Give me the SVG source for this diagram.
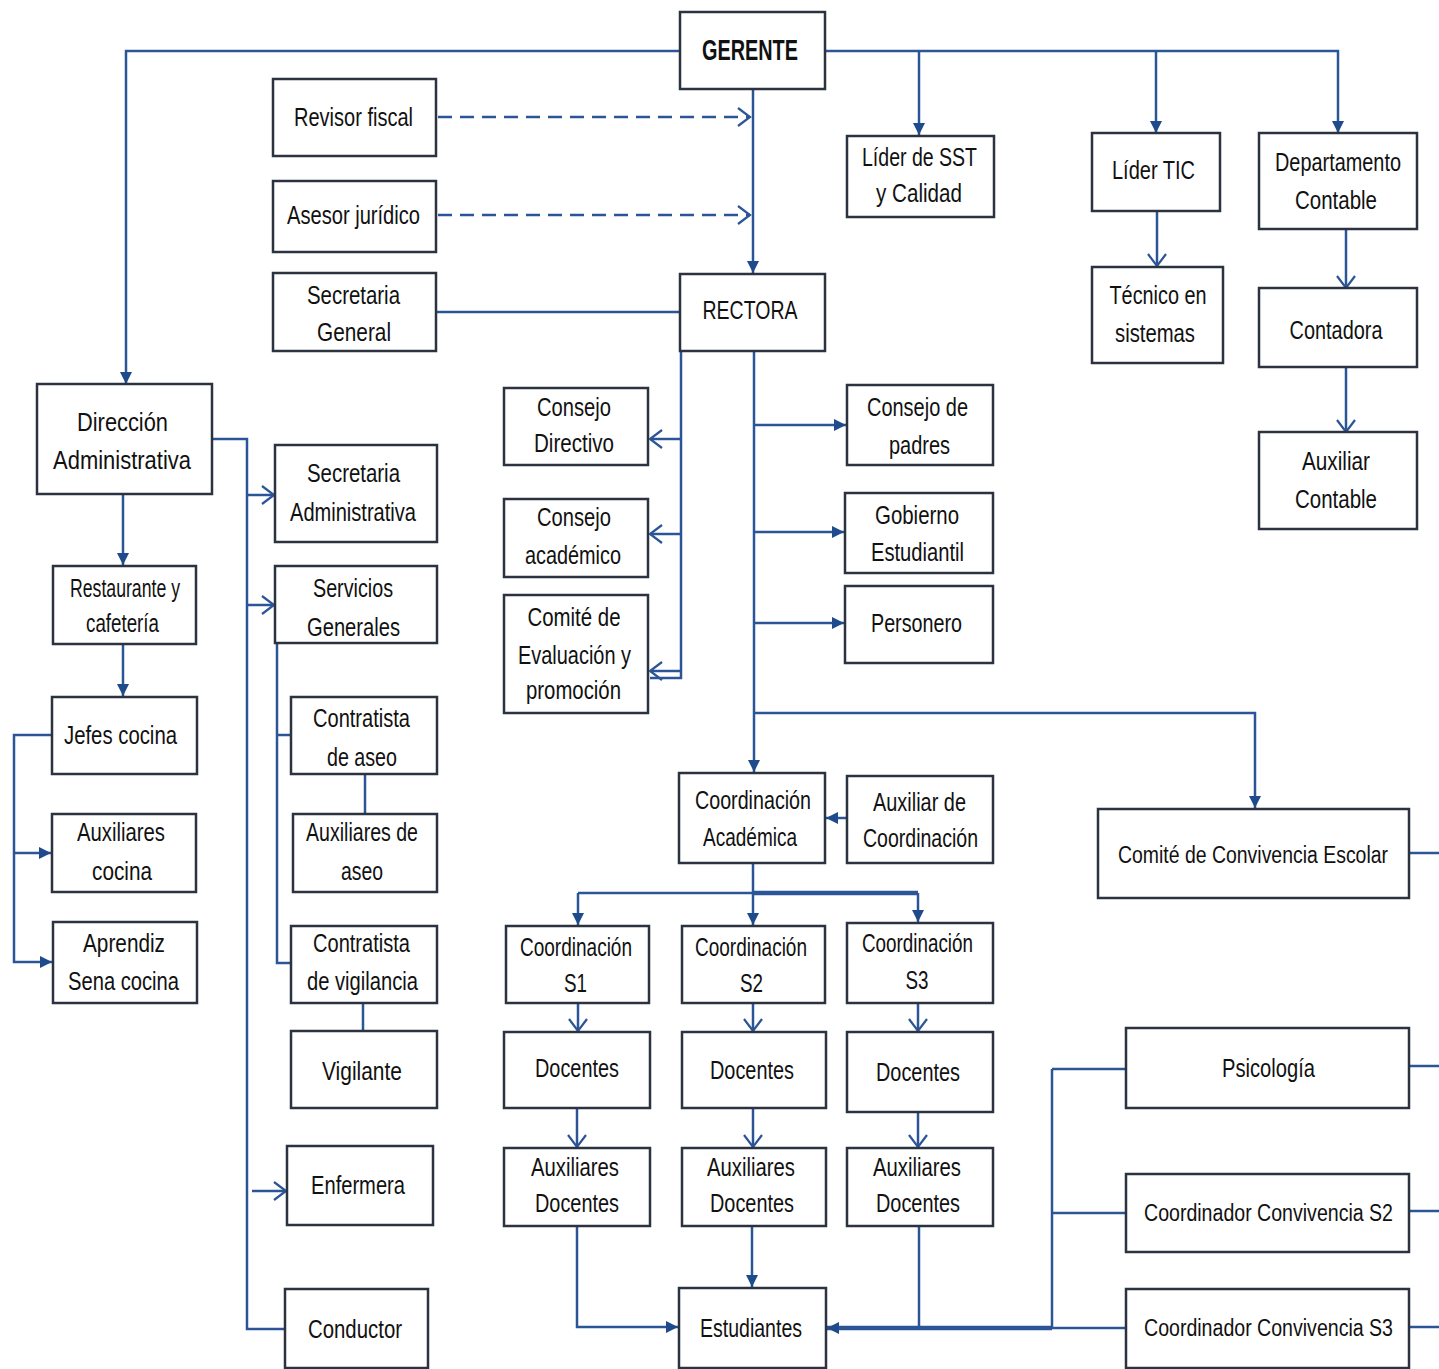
<svg xmlns="http://www.w3.org/2000/svg" width="1439" height="1369" viewBox="0 0 1439 1369">
<style>
.b{fill:#fff;stroke:#2c3340;stroke-width:2.5}
.t{font-family:"Liberation Sans",Arial,sans-serif;font-size:26px;fill:#111;text-anchor:middle}
.g{font-weight:bold;font-size:29px}
.w{font-size:23px}
.c{fill:none;stroke:#2b5596;stroke-width:2.5}
.d{stroke-dasharray:14 8}
.k{stroke-width:4.5}
.f{marker-end:url(#fa)}
.o{marker-end:url(#oa)}
</style>
<defs>
<marker id="fa" markerUnits="userSpaceOnUse" markerWidth="14" markerHeight="14" refX="12" refY="7" orient="auto">
<path d="M0,1 L12,7 L0,13 z" fill="#1f4a8c"/>
</marker>
<marker id="oa" markerUnits="userSpaceOnUse" markerWidth="16" markerHeight="20" refX="13" refY="10" orient="auto">
<path d="M1,1 L13,10 L1,19" fill="none" stroke="#2b5596" stroke-width="2.2"/>
</marker>
</defs>
<rect width="1439" height="1369" fill="#fff"/>
<g id="connectors">
<path class="c f" d="M680,51 H126 V384"/>
<path class="c f" d="M825,51 H1338 V133"/>
<path class="c f" d="M919,51 V135"/>
<path class="c f" d="M1156,51 V133"/>
<path class="c f" d="M753,89 V273"/>
<path class="c d o" d="M438,117 H750"/>
<path class="c d o" d="M438,215 H750"/>
<path class="c" d="M436,312 H680"/>
<path class="c o" d="M1157,211 V266"/>
<path class="c o" d="M1346,229 V288"/>
<path class="c o" d="M1346,367 V432"/>
<path class="c" d="M681,351 V678 H650"/>
<path class="c o" d="M681,439 H650"/>
<path class="c o" d="M681,534 H650"/>
<path class="c o" d="M681,671 H650"/>
<path class="c f" d="M754,351 V772"/>
<path class="c f" d="M754,425 H846"/>
<path class="c f" d="M754,532 H844"/>
<path class="c f" d="M754,623 H844"/>
<path class="c f" d="M754,713 H1255 V808"/>
<path class="c f" d="M847,818 H826"/>
<path class="c" d="M753,864 V893 M578,893 H918"/>
<path class="c k" d="M753,893 H918"/>
<path class="c f" d="M578,893 V925"/>
<path class="c f" d="M753,893 V925"/>
<path class="c f" d="M918,893 V922"/>
<path class="c o" d="M578,1003 V1031"/>
<path class="c o" d="M753,1003 V1031"/>
<path class="c o" d="M918,1003 V1031"/>
<path class="c o" d="M577,1108 V1147"/>
<path class="c o" d="M753,1108 V1147"/>
<path class="c o" d="M918,1112 V1147"/>
<path class="c f" d="M577,1226 V1327 H678"/>
<path class="c f" d="M752,1226 V1287"/>
<path class="c" d="M919,1226 V1327"/>
<path class="c k f" d="M1052,1328 H827"/>
<path class="c" d="M1052,1069 V1328 M1052,1069 H1126 M1052,1213 H1126 M1052,1328 H1126"/>
<path class="c" d="M1409,853 H1439 M1409,1066 H1439 M1409,1211 H1439 M1409,1327 H1439"/>
<path class="c" d="M212,439 H247 V1329 H285"/>
<path class="c o" d="M247,495 H274"/>
<path class="c o" d="M247,605 H274"/>
<path class="c o" d="M252,1191 H286"/>
<path class="c f" d="M123,494 V565"/>
<path class="c f" d="M123,644 V696"/>
<path class="c f" d="M52,735 H14 V962 H52"/>
<path class="c f" d="M14,853 H51"/>
<path class="c" d="M277,643 V963 H291 M277,735 H291"/>
<path class="c" d="M365,774 V814"/>
<path class="c" d="M363,1003 V1031"/>
</g>
<g id="gerente"><rect class="b" x="680" y="12" width="145" height="77"/><text class="t g" x="750" y="60" textLength="96" lengthAdjust="spacingAndGlyphs">GERENTE</text></g>
<g id="revisor"><rect class="b" x="273" y="79" width="163" height="77"/><text class="t" x="353.5" y="126" textLength="119" lengthAdjust="spacingAndGlyphs">Revisor fiscal</text></g>
<g id="asesor"><rect class="b" x="273" y="181" width="163" height="71"/><text class="t" x="353.5" y="224" textLength="133" lengthAdjust="spacingAndGlyphs">Asesor jurídico</text></g>
<g id="secgeneral"><rect class="b" x="273" y="273" width="163" height="78"/><text class="t" x="353.5" y="304" textLength="93" lengthAdjust="spacingAndGlyphs">Secretaria</text><text class="t" x="354" y="341" textLength="74" lengthAdjust="spacingAndGlyphs">General</text></g>
<g id="rectora"><rect class="b" x="680" y="274" width="145" height="77"/><text class="t" x="750" y="319" textLength="95" lengthAdjust="spacingAndGlyphs">RECTORA</text></g>
<g id="sst"><rect class="b" x="847" y="136" width="147" height="81"/><text class="t" x="919.5" y="166" textLength="115" lengthAdjust="spacingAndGlyphs">Líder de SST</text><text class="t" x="919" y="202" textLength="86" lengthAdjust="spacingAndGlyphs">y Calidad</text></g>
<g id="tic"><rect class="b" x="1092" y="133" width="128" height="78"/><text class="t" x="1153.5" y="179" textLength="83" lengthAdjust="spacingAndGlyphs">Líder TIC</text></g>
<g id="tecnico"><rect class="b" x="1092" y="267" width="131" height="96"/><text class="t" x="1158" y="304" textLength="97" lengthAdjust="spacingAndGlyphs">Técnico en</text><text class="t" x="1155" y="342" textLength="80" lengthAdjust="spacingAndGlyphs">sistemas</text></g>
<g id="depcontable"><rect class="b" x="1259" y="133" width="158" height="96"/><text class="t" x="1338" y="171" textLength="126" lengthAdjust="spacingAndGlyphs">Departamento</text><text class="t" x="1336" y="209" textLength="82" lengthAdjust="spacingAndGlyphs">Contable</text></g>
<g id="contadora"><rect class="b" x="1259" y="288" width="158" height="79"/><text class="t" x="1336" y="339" textLength="93" lengthAdjust="spacingAndGlyphs">Contadora</text></g>
<g id="auxcontable"><rect class="b" x="1259" y="432" width="158" height="97"/><text class="t" x="1336" y="470" textLength="68" lengthAdjust="spacingAndGlyphs">Auxiliar</text><text class="t" x="1336" y="508" textLength="82" lengthAdjust="spacingAndGlyphs">Contable</text></g>
<g id="diradm"><rect class="b" x="37" y="384" width="175" height="110"/><text class="t" x="122.5" y="431" textLength="91" lengthAdjust="spacingAndGlyphs">Dirección</text><text class="t" x="122" y="469" textLength="138" lengthAdjust="spacingAndGlyphs">Administrativa</text></g>
<g id="secadm"><rect class="b" x="275" y="445" width="162" height="97"/><text class="t" x="353.5" y="482" textLength="93" lengthAdjust="spacingAndGlyphs">Secretaria</text><text class="t" x="353" y="521" textLength="126" lengthAdjust="spacingAndGlyphs">Administrativa</text></g>
<g id="servgen"><rect class="b" x="275" y="566" width="162" height="77"/><text class="t" x="353" y="597" textLength="80" lengthAdjust="spacingAndGlyphs">Servicios</text><text class="t" x="353.5" y="636" textLength="93" lengthAdjust="spacingAndGlyphs">Generales</text></g>
<g id="restaurante"><rect class="b" x="53" y="566" width="143" height="78"/><text class="t" x="125" y="597" textLength="110" lengthAdjust="spacingAndGlyphs">Restaurante y</text><text class="t" x="122.5" y="632" textLength="73" lengthAdjust="spacingAndGlyphs">cafetería</text></g>
<g id="jefes"><rect class="b" x="52" y="697" width="145" height="77"/><text class="t" x="120.5" y="744" textLength="113" lengthAdjust="spacingAndGlyphs">Jefes cocina</text></g>
<g id="auxcocina"><rect class="b" x="52" y="814" width="144" height="78"/><text class="t" x="121" y="841" textLength="88" lengthAdjust="spacingAndGlyphs">Auxiliares</text><text class="t" x="122" y="880" textLength="60" lengthAdjust="spacingAndGlyphs">cocina</text></g>
<g id="aprendiz"><rect class="b" x="53" y="922" width="144" height="81"/><text class="t" x="124" y="952" textLength="82" lengthAdjust="spacingAndGlyphs">Aprendiz</text><text class="t" x="123.5" y="990" textLength="111" lengthAdjust="spacingAndGlyphs">Sena cocina</text></g>
<g id="contaseo"><rect class="b" x="291" y="697" width="146" height="77"/><text class="t" x="361.5" y="727" textLength="97" lengthAdjust="spacingAndGlyphs">Contratista</text><text class="t" x="362" y="766" textLength="70" lengthAdjust="spacingAndGlyphs">de aseo</text></g>
<g id="auxaseo"><rect class="b" x="293" y="814" width="144" height="78"/><text class="t" x="362" y="841" textLength="112" lengthAdjust="spacingAndGlyphs">Auxiliares de</text><text class="t" x="362" y="880" textLength="42" lengthAdjust="spacingAndGlyphs">aseo</text></g>
<g id="contvig"><rect class="b" x="291" y="926" width="146" height="77"/><text class="t" x="361.5" y="952" textLength="97" lengthAdjust="spacingAndGlyphs">Contratista</text><text class="t" x="362.5" y="990" textLength="111" lengthAdjust="spacingAndGlyphs">de vigilancia</text></g>
<g id="vigilante"><rect class="b" x="291" y="1031" width="146" height="77"/><text class="t" x="362" y="1080" textLength="80" lengthAdjust="spacingAndGlyphs">Vigilante</text></g>
<g id="enfermera"><rect class="b" x="287" y="1146" width="146" height="79"/><text class="t" x="358" y="1194" textLength="94" lengthAdjust="spacingAndGlyphs">Enfermera</text></g>
<g id="conductor"><rect class="b" x="285" y="1289" width="143" height="79"/><text class="t" x="355" y="1338" textLength="94" lengthAdjust="spacingAndGlyphs">Conductor</text></g>
<g id="consdir"><rect class="b" x="504" y="388" width="144" height="77"/><text class="t" x="574" y="416" textLength="74" lengthAdjust="spacingAndGlyphs">Consejo</text><text class="t" x="574" y="452" textLength="80" lengthAdjust="spacingAndGlyphs">Directivo</text></g>
<g id="consacad"><rect class="b" x="504" y="499" width="144" height="78"/><text class="t" x="574" y="526" textLength="74" lengthAdjust="spacingAndGlyphs">Consejo</text><text class="t" x="573" y="564" textLength="96" lengthAdjust="spacingAndGlyphs">académico</text></g>
<g id="comiteeval"><rect class="b" x="504" y="595" width="144" height="118"/><text class="t" x="574" y="626" textLength="93" lengthAdjust="spacingAndGlyphs">Comité de</text><text class="t" x="574.5" y="664" textLength="113" lengthAdjust="spacingAndGlyphs">Evaluación y</text><text class="t" x="573.5" y="699" textLength="95" lengthAdjust="spacingAndGlyphs">promoción</text></g>
<g id="conspadres"><rect class="b" x="847" y="385" width="146" height="80"/><text class="t" x="917.5" y="416" textLength="101" lengthAdjust="spacingAndGlyphs">Consejo de</text><text class="t" x="919.5" y="454" textLength="61" lengthAdjust="spacingAndGlyphs">padres</text></g>
<g id="gobierno"><rect class="b" x="845" y="493" width="148" height="80"/><text class="t" x="917" y="524" textLength="84" lengthAdjust="spacingAndGlyphs">Gobierno</text><text class="t" x="917.5" y="561" textLength="93" lengthAdjust="spacingAndGlyphs">Estudiantil</text></g>
<g id="personero"><rect class="b" x="845" y="586" width="148" height="77"/><text class="t" x="916.5" y="632" textLength="91" lengthAdjust="spacingAndGlyphs">Personero</text></g>
<g id="coordacad"><rect class="b" x="679" y="773" width="146" height="90"/><text class="t" x="753" y="809" textLength="116" lengthAdjust="spacingAndGlyphs">Coordinación</text><text class="t" x="750" y="846" textLength="94" lengthAdjust="spacingAndGlyphs">Académica</text></g>
<g id="auxcoord"><rect class="b" x="847" y="776" width="146" height="87"/><text class="t" x="919.5" y="811" textLength="93" lengthAdjust="spacingAndGlyphs">Auxiliar de</text><text class="t" x="920.5" y="847" textLength="115" lengthAdjust="spacingAndGlyphs">Coordinación</text></g>
<g id="comiteconv"><rect class="b" x="1098" y="809" width="311" height="89"/><text class="t w" x="1253" y="863" textLength="270" lengthAdjust="spacingAndGlyphs">Comité de Convivencia Escolar</text></g>
<g id="coords1"><rect class="b" x="506" y="926" width="143" height="77"/><text class="t" x="576" y="956" textLength="112" lengthAdjust="spacingAndGlyphs">Coordinación</text><text class="t" x="575.5" y="992" textLength="23" lengthAdjust="spacingAndGlyphs">S1</text></g>
<g id="coords2"><rect class="b" x="682" y="926" width="143" height="77"/><text class="t" x="751" y="956" textLength="112" lengthAdjust="spacingAndGlyphs">Coordinación</text><text class="t" x="751.5" y="992" textLength="23" lengthAdjust="spacingAndGlyphs">S2</text></g>
<g id="coords3"><rect class="b" x="847" y="923" width="146" height="80"/><text class="t" x="917.5" y="952" textLength="111" lengthAdjust="spacingAndGlyphs">Coordinación</text><text class="t" x="917" y="989" textLength="23" lengthAdjust="spacingAndGlyphs">S3</text></g>
<g id="docentes1"><rect class="b" x="504" y="1032" width="146" height="76"/><text class="t" x="577" y="1077" textLength="84" lengthAdjust="spacingAndGlyphs">Docentes</text></g>
<g id="docentes2"><rect class="b" x="682" y="1032" width="144" height="76"/><text class="t" x="752" y="1079" textLength="84" lengthAdjust="spacingAndGlyphs">Docentes</text></g>
<g id="docentes3"><rect class="b" x="847" y="1032" width="146" height="80"/><text class="t" x="918" y="1081" textLength="84" lengthAdjust="spacingAndGlyphs">Docentes</text></g>
<g id="auxdoc1"><rect class="b" x="504" y="1148" width="146" height="78"/><text class="t" x="575" y="1176" textLength="88" lengthAdjust="spacingAndGlyphs">Auxiliares</text><text class="t" x="577" y="1212" textLength="84" lengthAdjust="spacingAndGlyphs">Docentes</text></g>
<g id="auxdoc2"><rect class="b" x="682" y="1148" width="144" height="78"/><text class="t" x="751" y="1176" textLength="88" lengthAdjust="spacingAndGlyphs">Auxiliares</text><text class="t" x="752" y="1212" textLength="84" lengthAdjust="spacingAndGlyphs">Docentes</text></g>
<g id="auxdoc3"><rect class="b" x="847" y="1148" width="146" height="78"/><text class="t" x="917" y="1176" textLength="88" lengthAdjust="spacingAndGlyphs">Auxiliares</text><text class="t" x="918" y="1212" textLength="84" lengthAdjust="spacingAndGlyphs">Docentes</text></g>
<g id="estudiantes"><rect class="b" x="679" y="1288" width="147" height="80"/><text class="t" x="751" y="1337" textLength="102" lengthAdjust="spacingAndGlyphs">Estudiantes</text></g>
<g id="psicologia"><rect class="b" x="1126" y="1028" width="283" height="80"/><text class="t" x="1268.5" y="1077" textLength="93" lengthAdjust="spacingAndGlyphs">Psicología</text></g>
<g id="coordconvs2"><rect class="b" x="1126" y="1174" width="283" height="78"/><text class="t w" x="1268.5" y="1221" textLength="249" lengthAdjust="spacingAndGlyphs">Coordinador Convivencia S2</text></g>
<g id="coordconvs3"><rect class="b" x="1126" y="1289" width="283" height="79"/><text class="t w" x="1268.5" y="1336" textLength="249" lengthAdjust="spacingAndGlyphs">Coordinador Convivencia S3</text></g>
</svg>
